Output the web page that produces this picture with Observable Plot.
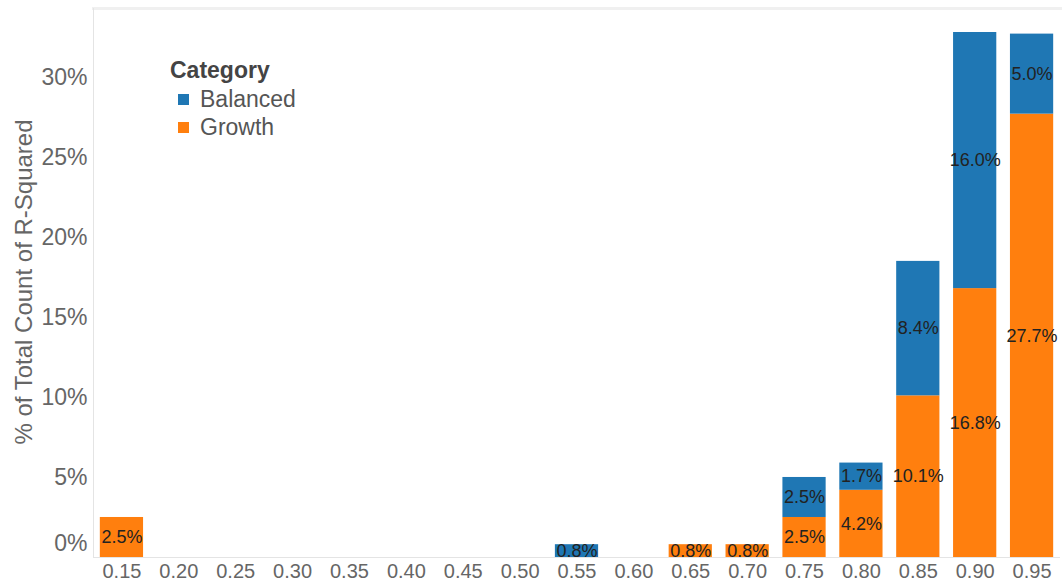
<!DOCTYPE html>
<html>
<head>
<meta charset="utf-8">
<script src="https://cdn.jsdelivr.net/npm/d3@7"></script>
<script src="https://cdn.jsdelivr.net/npm/@observablehq/plot@0.6"></script>
<style>
  html, body { margin: 0; padding: 0; background: #fff; }
  #wrap { position: relative; width: 1064px; height: 584px; font-family: "Liberation Sans", Arial, sans-serif; }
  #ylabel { position: absolute; left: 24px; top: 282px; transform: translate(-50%, -50%) rotate(-90deg); white-space: nowrap; font-size: 24px; color: #666; }
  #legend { position: absolute; left: 170px; top: 56px; color: #555; }
  #legend .title { font-weight: bold; font-size: 23px; color: #444; line-height: 28px; margin-bottom: 1px; }
  #legend .row { display: flex; align-items: center; font-size: 23px; line-height: 28px; }
  #legend .sw { width: 11px; height: 11px; margin-left: 8px; margin-right: 11px; }
</style>
</head>
<body>
<div id="wrap">
  <div id="chart"></div>
  <div id="ylabel">% of Total Count of R-Squared</div>
  <div id="legend"></div>
</div>
<script>
const xCats = ["0.15","0.20","0.25","0.30","0.35","0.40","0.45","0.50","0.55","0.60","0.65","0.70","0.75","0.80","0.85","0.90","0.95"];
const series = ["Balanced", "Growth"];
const seriesColors = ["#1f77b4", "#ff7f0e"];
const growthX = ["0.15","0.65","0.70","0.75","0.80","0.85","0.90","0.95"];
const growthVals = [2.5, 0.8, 0.8, 2.5, 4.2, 10.1, 16.8, 27.7];
const balancedX = ["0.55","0.75","0.80","0.85","0.90","0.95"];
const balancedVals = [0.8, 2.5, 1.7, 8.4, 16.0, 5.0];
const yTicks = [0, 5, 10, 15, 20, 25, 30];

const data = [
  ...growthX.map((b, i) => ({bin: b, category: "Growth", value: growthVals[i]})),
  ...balancedX.map((b, i) => ({bin: b, category: "Balanced", value: balancedVals[i]}))
];

const tickStyle = {tickSize: 0, tickPadding: 6, fontSize: 23, fill: "#666", tickFormat: d => d + "%", label: null};

const chart = Plot.plot({
  width: 1064,
  height: 584,
  marginLeft: 93,
  marginRight: 4,
  marginTop: 8,
  marginBottom: 27,
  style: {fontFamily: "'Liberation Sans', Arial, sans-serif", background: "white"},
  x: {domain: xCats, paddingInner: 0.24, paddingOuter: 0.12, round: false, axis: null},
  y: {domain: [0, 34.3], axis: null},
  color: {domain: series, range: seriesColors},
  marks: [
    Plot.frame({anchor: "top", stroke: "#f0f0f0", strokeWidth: 3}),
    Plot.frame({anchor: "left", stroke: "#e4e4e4"}),
    Plot.ruleY([0], {stroke: "#e4e4e4"}),
    Plot.barY(data, {x: "bin", y: "value", fill: "category", z: "category"}),
    Plot.text(data, Plot.stackY({x: "bin", y: "value", z: "category", text: d => d.value.toFixed(1) + "%", fontSize: 18, fill: "#222"})),
    Plot.axisY(yTicks.slice(1), tickStyle),
    Plot.axisY([0], {...tickStyle, dy: -14}),
    Plot.axisX({tickSize: 0, tickPadding: 6, fontSize: 20, fill: "#666", label: null})
  ]
});
document.getElementById("chart").appendChild(chart);

const legend = document.getElementById("legend");
const t = document.createElement("div");
t.className = "title";
t.textContent = "Category";
legend.appendChild(t);
series.forEach((s, i) => {
  const r = document.createElement("div");
  r.className = "row";
  const sw = document.createElement("span");
  sw.className = "sw";
  sw.style.background = seriesColors[i];
  const l = document.createElement("span");
  l.textContent = s;
  r.appendChild(sw);
  r.appendChild(l);
  legend.appendChild(r);
});
</script>
</body>
</html>
